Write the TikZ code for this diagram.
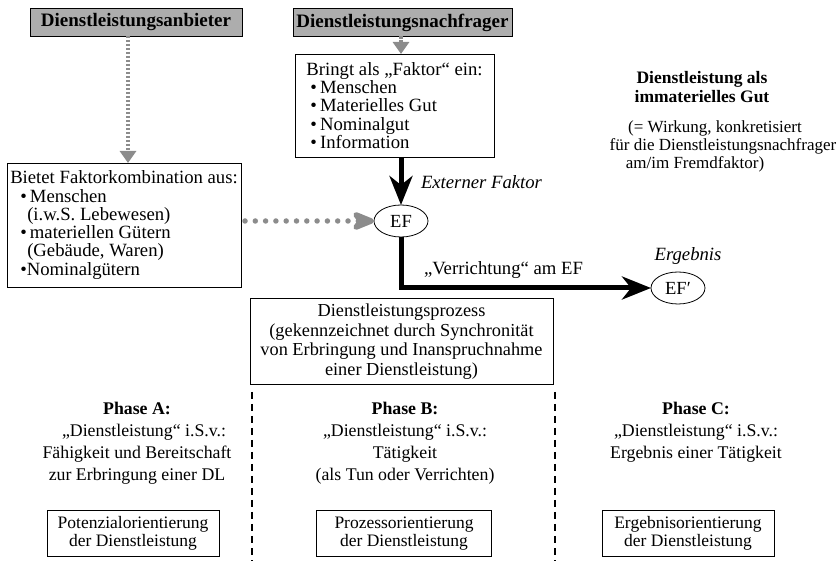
\documentclass[tikz,border=0pt]{standalone}
\usepackage{fontspec}
\setmainfont{Liberation Serif}
\usetikzlibrary{arrows.meta,shapes.geometric}
\definecolor{headgray}{gray}{0.68}
\definecolor{dotgray}{gray}{0.55}

\begin{document}
\begin{tikzpicture}[x=1pt,y=-1pt,
  every node/.style={inner sep=0pt, outer sep=0pt},
  header/.style={draw, line width=0.8pt, fill=headgray, minimum height=28,
    font=\fontsize{19}{20}\selectfont\bfseries},
  framebox/.style={draw, line width=0.8pt},
  toptext/.style={font=\fontsize{18.7}{18.3}\selectfont},
  midtext/.style={font=\fontsize{18.3}{19.7}\selectfont},
  lowtext/.style={font=\fontsize{17.8}{22}\selectfont},
  boxtext/.style={font=\fontsize{17.5}{18.5}\selectfont},
  sidetext/.style={font=\fontsize{17}{18}\selectfont},
  efnode/.style={draw, line width=0.8pt, ellipse, minimum width=54, minimum height=32,
    font=\fontsize{18.5}{20}\selectfont},
  heavy/.style={line width=5pt, -{Stealth[length=29pt,width=23pt,inset=9pt]}},
  feed/.style={draw=dotgray, line width=4pt, dash pattern=on 2.5pt off 1.5pt,
    -{Triangle[length=12pt,width=16pt,fill=dotgray]}},
  dotfeed/.style={draw=dotgray, line width=5.5pt, line cap=round, dash pattern=on 0pt off 10.3pt,
    -{Stealth[length=30pt,width=24pt,inset=9pt,fill=dotgray,round]}},
  divider/.style={line width=1.8pt, dash pattern=on 7pt off 5pt},
]
\useasboundingbox (0,0) rectangle (839,561);

% actors
\node[header, minimum width=212] (anb) at (136,22) {Dienstleistungsanbieter};
\node[header, minimum width=219] (nach) at (402.5,22.5) {Dienstleistungsnachfrager};

% contributions of both sides
\node[framebox, toptext, minimum width=199, minimum height=103, align=left] (bringt) at (394.5,105.5)
  {Bringt als „Faktor“ ein:\\
   \hspace*{4pt}•\,Menschen\\
   \hspace*{4pt}•\,Materielles Gut\\
   \hspace*{4pt}•\,Nominalgut\\
   \hspace*{4pt}•\,Information};
\node[framebox, toptext, minimum width=234, minimum height=124, align=left] (bietet) at (124,225)
  {Bietet Faktorkombination aus:\\
   \hspace*{10pt}•\,Menschen\\
   \hspace*{17pt}(i.w.S. Lebewesen)\\
   \hspace*{10pt}•\,materiellen Gütern\\
   \hspace*{17pt}(Gebäude, Waren)\\
   \hspace*{10pt}•Nominalgütern};

% external factor before and after the service
\node[efnode] (ef) at (401,221) {EF};
\node[efnode] (efp) at (678,288) {EF′};
\coordinate (knick) at (401,288);

\coordinate (ax) at (128,0);
\draw[feed] (anb.south -| ax) -- (bietet.north -| ax);
\draw[feed] (nach.south -| ef) -- (bringt.north -| ef);
\draw[dotfeed, shorten <=4pt] (bietet.east |- ef.west) -- (ef.west);
\draw[heavy] (bringt.south -| ef) -- (ef.north);
\draw[heavy] (ef.south) -- (knick) -- (efp.west);

\node[font=\fontsize{18.7}{20}\selectfont\itshape, anchor=west] (extlabel) at (421,182) {Externer Faktor};
\node[toptext, anchor=west] (verrlabel) at (424,270) {„Verrichtung“ am EF};
\node[font=\fontsize{18.7}{20}\selectfont\itshape] (erglabel) at (688,256) {Ergebnis};

% service as an immaterial good
\node[font=\fontsize{17.5}{19.5}\selectfont\bfseries, align=center] (gut) at (702,87)
  {Dienstleistung als\\immaterielles Gut};
\node[sidetext, align=center] (wirkung) at (723,146)
  {(= Wirkung, konkretisiert\hspace*{16pt}\\
   für die Dienstleistungsnachfrager\\
   am/im Fremdfaktor)\hspace*{56pt}};

% service process
\node[framebox, midtext, minimum width=303, minimum height=86, align=center] (prozess) at (401.5,341.5)
  {Dienstleistungsprozess\\
   (gekennzeichnet durch Synchronität\\
   von Erbringung und Inanspruchnahme\\
   einer Dienstleistung)};

% phase dividers
\coordinate (d1t) at (252,392);
\coordinate (d1b) at (252,561);
\coordinate (d2t) at (555,392);
\coordinate (d2b) at (555,561);
\draw[divider] (d1t) -- (d1b);
\draw[divider] (d2t) -- (d2b);

% phases
\node[lowtext, align=center, anchor=north] (phaseA) at (137,402)
  {\textbf{Phase A:}\\
   \hspace*{14pt}„Dienstleistung“ i.S.v.:\\
   Fähigkeit und Bereitschaft\\
   zur Erbringung einer DL};
\node[lowtext, align=center, anchor=north] (phaseB) at (405,402)
  {\textbf{Phase B:}\\
   „Dienstleistung“ i.S.v.:\\
   Tätigkeit\\
   (als Tun oder Verrichten)};
\node[lowtext, align=center, anchor=north] (phaseC) at (696,402)
  {\textbf{Phase C:}\\
   „Dienstleistung“ i.S.v.:\\
   Ergebnis einer Tätigkeit};

\node[framebox, boxtext, minimum width=172, minimum height=46, align=center] (orA) at (133,533.5)
  {Potenzialorientierung\\der Dienstleistung};
\node[framebox, boxtext, minimum width=175, minimum height=46, align=center] (orB) at (404,533.5)
  {Prozessorientierung\\der Dienstleistung};
\node[framebox, boxtext, minimum width=172, minimum height=46, align=center] (orC) at (688,533.5)
  {Ergebnisorientierung\\der Dienstleistung};
\end{tikzpicture}
\end{document}
